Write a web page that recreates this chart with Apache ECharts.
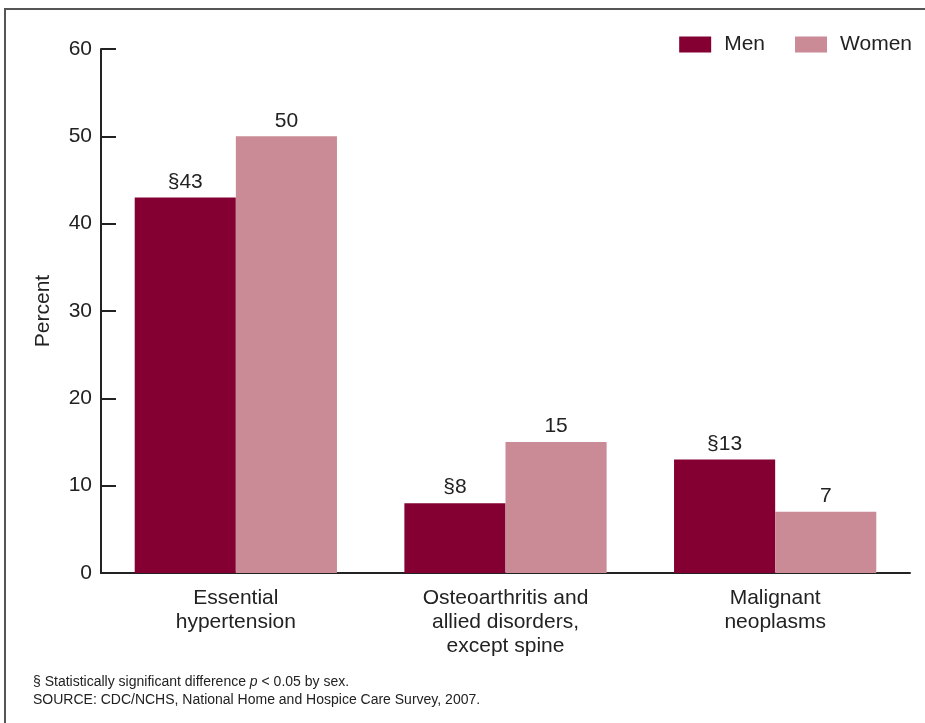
<!DOCTYPE html>
<html><head><meta charset="utf-8">
<script src="https://cdn.jsdelivr.net/npm/echarts@6/dist/echarts.min.js"></script>
<style>html,body{margin:0;padding:0;background:#fff}#c{width:925px;height:723px}</style>
</head><body><div id="c"></div>
<script>
const categories = ["Essential\nhypertension", "Osteoarthritis and\nallied disorders,\nexcept spine", "Malignant\nneoplasms"];
const menValues = [43, 8, 13];
const womenValues = [50, 15, 7];
const menSignificant = [true, true, true];
const womenSignificant = [false, false, false];
const yTicks = [0, 10, 20, 30, 40, 50, 60];

const FONT = '"Liberation Sans", Arial, sans-serif';
const FS = 21;
const chart = echarts.init(document.getElementById('c'), null, {renderer: 'canvas'});
function lab(sig) {
  return {
    show: true, position: 'top', distance: 5, color: '#222', fontSize: FS, fontFamily: FONT,
    formatter: p => (sig[p.dataIndex] ? '§' : '') + p.value
  };
}
chart.setOption({
  animation: false,
  textStyle: {fontFamily: FONT},
  graphic: [
    {type: 'rect', shape: {x: 5, y: 9, width: 940, height: 740}, style: {fill: 'none', stroke: '#555', lineWidth: 2}, silent: true},
    {type: 'text', left: 33, top: 673, style: {
      rich: {n: {fontSize: 14, fontFamily: FONT, fill: '#222'}, i: {fontSize: 14, fontFamily: FONT, fontStyle: 'italic', fill: '#222'}},
      text: '{n|§ Statistically significant difference }{i|p}{n| < 0.05 by sex.}\n{n|SOURCE: CDC/NCHS, National Home and Hospice Care Survey, 2007.}',
      lineHeight: 18
    }}
  ],
  legend: {
    right: 8, top: 29, itemWidth: 32, itemHeight: 16, itemGap: 30,
    textStyle: {fontSize: FS, color: '#222', fontFamily: FONT, padding: [0, 0, 0, 8]},
    data: ['Men', 'Women'], icon: 'rect'
  },
  grid: {left: 101, right: 15, top: 49, bottom: 150, containLabel: false},
  xAxis: {
    type: 'category', data: categories,
    axisLine: {lineStyle: {color: '#222', width: 2}},
    axisTick: {show: false},
    axisLabel: {color: '#222', fontSize: FS, lineHeight: 24, margin: 13, interval: 0, fontFamily: FONT}
  },
  yAxis: {
    type: 'value', min: yTicks[0], max: yTicks[yTicks.length - 1], interval: 10,
    name: 'Percent', nameLocation: 'middle', nameGap: 47, nameRotate: 90,
    nameTextStyle: {fontSize: FS, color: '#222', fontFamily: FONT},
    axisLine: {show: true, lineStyle: {color: '#222', width: 2}},
    axisTick: {show: true, inside: true, length: 15, lineStyle: {color: '#222', width: 2}},
    axisLabel: {color: '#222', fontSize: FS, margin: 9, fontFamily: FONT},
    splitLine: {show: false}
  },
  series: [
    {name: 'Men', type: 'bar', data: menValues, barGap: '0%', barCategoryGap: '25%',
     itemStyle: {color: '#850032'}, label: lab(menSignificant)},
    {name: 'Women', type: 'bar', data: womenValues, barGap: '0%', barCategoryGap: '25%',
     itemStyle: {color: '#CA8A96'}, label: lab(womenSignificant)}
  ]
});
</script></body></html>
